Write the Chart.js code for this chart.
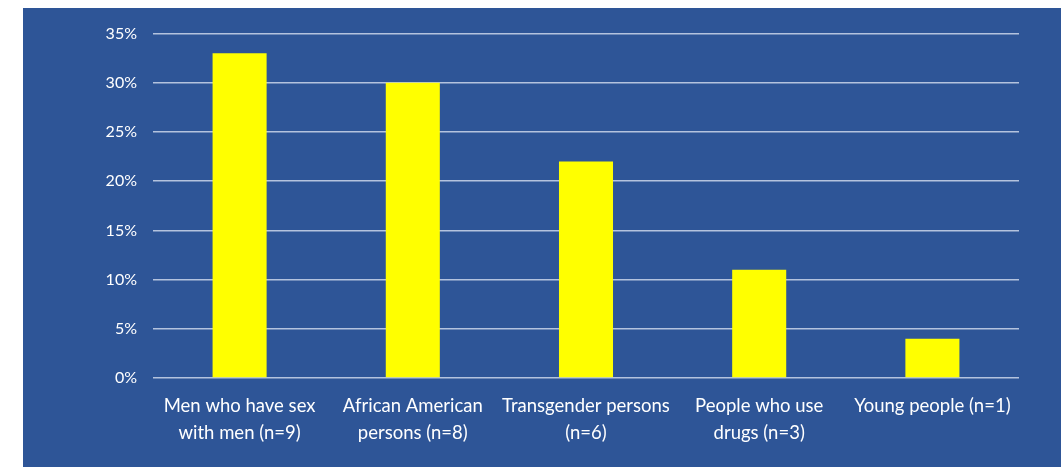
<!DOCTYPE html>
<html>
<head>
<meta charset="utf-8">
<script src="https://cdn.jsdelivr.net/npm/chart.js@4/dist/chart.umd.min.js"></script>
<style>
  html, body { margin: 0; padding: 0; background: #ffffff; width: 1061px; height: 467px; overflow: hidden; }
  #wrap { position: absolute; left: 23px; top: 8px; width: 1038px; height: 459px; background: #2E5597; }
  canvas { display: block; }
</style>
</head>
<body>
<div id="wrap"><canvas id="c" width="1038" height="459"></canvas></div>
<script>
const categories = [
  ["Men who have sex", "with men (n=9)"],
  ["African American", "persons (n=8)"],
  ["Transgender persons", "(n=6)"],
  ["People who use", "drugs (n=3)"],
  "Young people (n=1)"
];
const percentages = [33, 30, 22, 11, 4];
const yTicksMax = 35;
const yTickStep = 5;

const fontFamily = "Lato, 'Open Sans', 'Noto Sans', sans-serif";

new Chart(document.getElementById('c'), {
  type: 'bar',
  data: {
    labels: categories,
    datasets: [{
      data: percentages,
      backgroundColor: '#FFFF00',
      borderWidth: 0,
      categoryPercentage: 1.0,
      barPercentage: 0.312
    }]
  },
  options: {
    responsive: false,
    animation: false,
    devicePixelRatio: 1,
    layout: { padding: { left: 0, right: 42, top: 24, bottom: 0 } },
    plugins: { legend: { display: false }, tooltip: { enabled: false } },
    scales: {
      x: {
        grid: { display: false, drawTicks: false },
        border: { display: false },
        ticks: {
          color: '#FFFFFF',
          font: { family: fontFamily, size: 18.5, lineHeight: 1.45 },
          maxRotation: 0,
          autoSkip: false,
          padding: 15
        },
        afterFit: (s) => { s.height = 89; }
      },
      y: {
        min: 0,
        max: yTicksMax,
        grid: { color: 'rgba(225,232,245,0.75)', lineWidth: 1.5, drawTicks: false },
        border: { display: false },
        ticks: {
          stepSize: yTickStep,
          color: '#FFFFFF',
          font: { family: fontFamily, size: 16 },
          padding: 16,
          callback: (v) => v + '%'
        },
        afterFit: (s) => { s.width = 130; }
      }
    }
  }
});
</script>
</body>
</html>
